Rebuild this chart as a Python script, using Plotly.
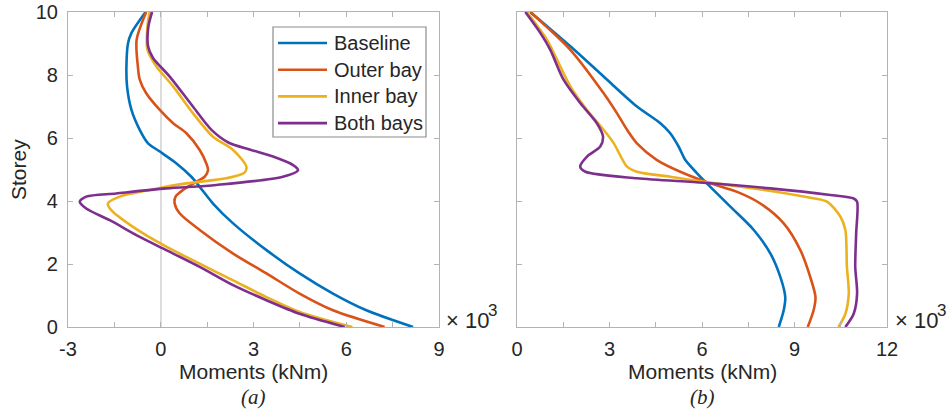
import plotly.graph_objects as go

# ---- data (moments in kNm x 10^3, storey level) ----
series_names = ["Baseline", "Outer bay", "Inner bay", "Both bays"]
colors = ["#0072BD", "#D95319", "#EDB120", "#7E2F8E"]

# Panel (a)
a_base_x = [-0.49, -0.95, -1.06, -1.11, -1.09, -0.95, -0.68, -0.41, -0.03, 0.50, 0.99, 1.26, 1.69, 2.34, 3.42, 4.49, 5.57, 6.65, 8.16]
a_base_y = [10, 9.33, 9.0, 8.27, 7.64, 6.9, 6.26, 5.83, 5.57, 5.2, 4.77, 4.45, 3.92, 3.29, 2.44, 1.70, 1.06, 0.53, 0]

a_outer_x = [-0.47, -0.78, -0.74, -0.68, -0.47, -0.03, 0.40, 0.83, 1.26, 1.47, 1.53, 1.42, 1.15, 0.72, 0.48, 0.45, 0.61, 1.26, 2.34, 3.42, 4.49, 5.57, 7.24]
a_outer_y = [10, 9.12, 8.27, 7.85, 7.42, 6.89, 6.47, 6.15, 5.62, 5.2, 4.98, 4.77, 4.61, 4.35, 4.14, 3.92, 3.61, 3.08, 2.33, 1.70, 1.06, 0.53, 0]

a_inner_x = [-0.36, -0.43, -0.43, -0.14, 0.40, 1.04, 1.69, 2.34, 2.77, 2.71, 2.12, 0.83, -0.36, -1.33, -1.71, -1.60, -0.90, 0.18, 1.26, 2.34, 3.42, 4.49, 6.20]
a_inner_y = [10, 9.54, 8.80, 8.27, 7.64, 6.79, 6.04, 5.62, 5.09, 4.90, 4.72, 4.56, 4.35, 4.14, 3.92, 3.71, 3.18, 2.55, 2.01, 1.48, 0.95, 0.48, 0]

a_both_x = [-0.28, -0.40, -0.41, -0.25, 0.29, 1.04, 1.65, 2.20, 2.90, 3.63, 4.28, 4.44, 3.95, 1.80, 0.18, -1.44, -2.41, -2.62, -2.41, -1.65, -0.68, 0.18, 1.26, 2.34, 3.42, 4.49, 5.95]
a_both_y = [10, 9.54, 8.91, 8.54, 7.95, 7.0, 6.25, 5.85, 5.63, 5.41, 5.14, 4.98, 4.77, 4.51, 4.40, 4.24, 4.14, 3.98, 3.76, 3.39, 2.86, 2.44, 1.91, 1.33, 0.85, 0.42, 0]

# Panel (b)
b_base_x = [0.43, 1.73, 2.81, 3.89, 4.65, 4.97, 5.24, 5.46, 5.84, 6.27, 6.92, 7.68, 8.22, 8.54, 8.70, 8.65, 8.49]
b_base_y = [10, 8.91, 7.95, 7.0, 6.47, 6.15, 5.73, 5.30, 4.88, 4.45, 3.82, 3.08, 2.33, 1.59, 0.95, 0.53, 0]

b_outer_x = [0.43, 1.73, 2.81, 3.24, 3.57, 3.89, 4.54, 5.41, 6.27, 7.14, 7.89, 8.65, 9.19, 9.51, 9.68, 9.62, 9.43]
b_outer_y = [10, 8.80, 7.42, 6.79, 6.26, 5.83, 5.30, 4.88, 4.56, 4.29, 3.92, 3.29, 2.44, 1.59, 0.95, 0.53, 0]

b_inner_x = [0.32, 0.97, 1.30, 1.73, 2.27, 2.81, 3.14, 3.57, 3.89, 4.97, 6.05, 7.68, 9.30, 10.05, 10.49, 10.65, 10.70, 10.76, 10.65, 10.43]
b_inner_y = [10, 9.12, 8.48, 7.64, 6.89, 6.26, 5.83, 5.09, 4.93, 4.77, 4.61, 4.40, 4.14, 3.98, 3.50, 3.08, 1.91, 1.06, 0.42, 0]

b_both_x = [0.27, 0.76, 1.08, 1.51, 2.05, 2.59, 2.79, 2.70, 2.27, 2.05, 2.22, 3.89, 6.05, 8.22, 10.16, 10.92, 11.03, 11.00, 10.97, 11.03, 10.92, 10.65]
b_both_y = [10, 9.33, 8.80, 7.85, 7.11, 6.47, 6.04, 5.73, 5.41, 5.09, 4.93, 4.72, 4.58, 4.40, 4.19, 4.08, 3.98, 2.97, 1.91, 1.06, 0.42, 0]

a_series = [(a_base_x, a_base_y), (a_outer_x, a_outer_y), (a_inner_x, a_inner_y), (a_both_x, a_both_y)]
b_series = [(b_base_x, b_base_y), (b_outer_x, b_outer_y), (b_inner_x, b_inner_y), (b_both_x, b_both_y)]

a_xticks = [-3, -1.5, 0, 1.5, 3, 4.5, 6, 7.5, 9]
a_xlabels = ["-3", "", "0", "", "3", "", "6", "", "9"]
b_xticks = [0, 1.5, 3, 4.5, 6, 7.5, 9, 10.5, 12]
b_xlabels = ["0", "", "3", "", "6", "", "9", "", "12"]
yticks = [0, 2, 4, 6, 8, 10]
x_title = "Moments (kNm)"
y_title = "Storey"
panel_labels = ["(a)", "(b)"]

W, H = 947, 411
FONT = "Liberation Sans, Arial, sans-serif"
SERIF = "Liberation Serif, Times New Roman, serif"
TXT = "#262626"
FRAME = "#b3b3b3"


def px(x):
    return x / W


def py(y):
    return 1 - y / H


fig = go.Figure()
for i, (x, y) in enumerate(a_series):
    fig.add_trace(go.Scatter(x=x, y=y, mode="lines", name=series_names[i], showlegend=False,
                             line=dict(color=colors[i], width=2.6, shape="spline", smoothing=0.8),
                             xaxis="x", yaxis="y"))
for i, (x, y) in enumerate(b_series):
    fig.add_trace(go.Scatter(x=x, y=y, mode="lines", name=series_names[i], showlegend=False,
                             line=dict(color=colors[i], width=2.6, shape="spline", smoothing=0.8),
                             xaxis="x2", yaxis="y2"))

axis_common = dict(showgrid=False, showline=True, linecolor=FRAME, linewidth=1.2, mirror="ticks",
                   ticks="inside", ticklen=5, tickcolor=FRAME, tickwidth=1, automargin=False,
                   tickfont=dict(family=FONT, size=20, color=TXT))

ydom = [py(327), py(12)]
fig.update_layout(
    width=W, height=H, margin=dict(l=0, r=0, t=0, b=0, autoexpand=False),
    plot_bgcolor="white", paper_bgcolor="white",
    font=dict(family=FONT, color=TXT),
    xaxis=dict(domain=[px(68), px(439)], range=[-3, 9], tickmode="array", tickvals=a_xticks,
               ticktext=a_xlabels, zeroline=True, zerolinecolor="#dcdcdc", zerolinewidth=1.5,
               ticklabelstandoff=4, anchor="y", **axis_common),
    yaxis=dict(domain=ydom, range=[0, 10], tickmode="array", tickvals=yticks, zeroline=False,
               ticklabelstandoff=5, anchor="x", **axis_common),
    xaxis2=dict(domain=[px(517), px(887)], range=[0, 12], tickmode="array", tickvals=b_xticks,
                ticktext=b_xlabels, zeroline=False, ticklabelstandoff=4, anchor="y2", **axis_common),
    yaxis2=dict(domain=ydom, range=[0, 10], tickmode="array", tickvals=yticks, zeroline=False,
                showticklabels=False, anchor="x2", **axis_common),
    showlegend=False,
)

# axis titles and panel labels
for cx, lbl in [(253.5, panel_labels[0]), (702, panel_labels[1])]:
    fig.add_annotation(xref="paper", yref="paper", x=px(cx), y=py(371), xanchor="center", yanchor="middle",
                       text=x_title, showarrow=False, font=dict(family=FONT, size=21, color=TXT))
    fig.add_annotation(xref="paper", yref="paper", x=px(cx), y=py(397), xanchor="center", yanchor="middle",
                       text="<i>" + lbl + "</i>", showarrow=False, font=dict(family=SERIF, size=21, color=TXT))
fig.add_annotation(xref="paper", yref="paper", x=px(19), y=py(170), xanchor="center", yanchor="middle",
                   text=y_title, textangle=-90, showarrow=False, font=dict(family=FONT, size=21, color=TXT))

# exponent labels
for x0 in [444, 893]:
    fig.add_annotation(xref="paper", yref="paper", x=px(x0), y=py(320), xanchor="left", yanchor="middle",
                       text="× 10", showarrow=False, font=dict(family=FONT, size=22, color=TXT))
    fig.add_annotation(xref="paper", yref="paper", x=px(x0 + 42), y=py(310), xanchor="left", yanchor="middle",
                       text="3", showarrow=False, font=dict(family=FONT, size=17, color=TXT))

# legend (box, line samples, labels)
fig.add_shape(type="rect", xref="paper", yref="paper", x0=px(273), x1=px(426), y0=py(137), y1=py(27),
              line=dict(color="#8c8c8c", width=1.2), fillcolor="white", layer="above")
for i, name in enumerate(series_names):
    ry = 43 + i * 26.7
    fig.add_shape(type="line", xref="paper", yref="paper", x0=px(278), x1=px(327), y0=py(ry), y1=py(ry),
                  line=dict(color=colors[i], width=2.6), layer="above")
    fig.add_annotation(xref="paper", yref="paper", x=px(332), y=py(ry), xanchor="left", yanchor="middle",
                       text=name, showarrow=False, font=dict(family=FONT, size=20, color=TXT))

fig.write_html("out.html")
